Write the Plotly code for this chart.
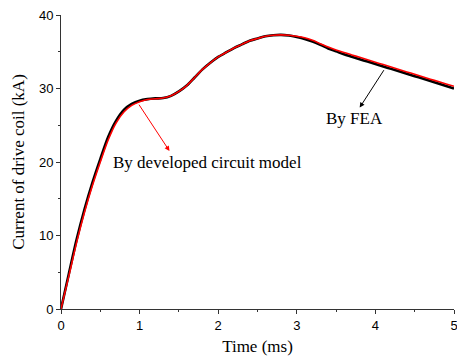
import plotly.graph_objects as go

# Time (ms)
t_ms = [0.0, 0.1, 0.2, 0.3, 0.4, 0.5, 0.6, 0.7, 0.8, 0.9,
        1.0, 1.1, 1.2, 1.3, 1.4, 1.5, 1.6, 1.7, 1.8, 1.9,
        2.0, 2.1, 2.2, 2.3, 2.4, 2.5, 2.6, 2.7, 2.8, 2.9,
        3.0, 3.1, 3.2, 3.3, 3.4, 3.5, 3.6, 3.7, 3.8, 3.9,
        4.0, 4.1, 4.2, 4.3, 4.4, 4.5, 4.6, 4.7, 4.8, 4.9, 5.0]

# Current (kA) by developed circuit model (red)
i_circuit = [0, 4.5, 9.1, 13.2, 16.8, 20.0, 23.0, 25.3, 26.8, 27.7,
             28.2, 28.5, 28.6, 28.7, 29.0, 29.6, 30.4, 31.5, 32.6, 33.5,
             34.3, 34.9, 35.5, 36.0, 36.5, 36.8, 37.1, 37.25, 37.3, 37.25,
             37.1, 36.9, 36.55, 36.1, 35.65, 35.25, 34.9, 34.57, 34.24, 33.91,
             33.58, 33.25, 32.92, 32.59, 32.26, 31.93, 31.6, 31.27, 30.94, 30.62, 30.3]

# Current (kA) by FEA (black)
i_fea = [0, 4.8, 9.5, 13.6, 17.2, 20.4, 23.4, 25.6, 27.1, 27.9,
         28.35, 28.55, 28.65, 28.7, 29.0, 29.6, 30.4, 31.5, 32.6, 33.5,
         34.3, 34.9, 35.5, 36.0, 36.5, 36.8, 37.1, 37.25, 37.3, 37.2,
         37.0, 36.75, 36.4, 35.95, 35.45, 35.05, 34.65, 34.32, 33.99, 33.66,
         33.33, 33.0, 32.67, 32.34, 32.01, 31.68, 31.35, 31.02, 30.69, 30.35, 30.0]

x_ticks = [0, 1, 2, 3, 4, 5]
y_ticks = [0, 10, 20, 30, 40]

serif = "Liberation Serif, Times New Roman, serif"
sans = "Liberation Sans, Arial, sans-serif"

fig = go.Figure()
fig.add_trace(go.Scatter(x=t_ms, y=i_fea, mode="lines",
                         line=dict(color="black", width=2.6, shape="spline", smoothing=0.8),
                         name="By FEA", showlegend=False))
fig.add_trace(go.Scatter(x=t_ms, y=i_circuit, mode="lines",
                         line=dict(color="#ff0000", width=1.6, shape="spline", smoothing=0.8),
                         name="By developed circuit model", showlegend=False))

axis_common = dict(showline=True, linecolor="#333333", linewidth=1, showgrid=False, zeroline=False,
                   ticks="outside", ticklen=4, tickwidth=1, tickcolor="#333333",
                   tickfont=dict(family=sans, size=13, color="black"), mirror=False,
                   automargin=False)

fig.update_xaxes(range=[0, 5], tickvals=x_ticks, ticktext=[str(v) for v in x_ticks],
                 ticklabeloverflow="allow",
                 minor=dict(dtick=0.5, ticks="outside", ticklen=2, tickcolor="#333333"),
                 title=dict(text="Time (ms)", font=dict(family=serif, size=17, color="black"), standoff=8),
                 **axis_common)
fig.update_yaxes(range=[0, 40], tickvals=y_ticks, ticktext=[str(v) for v in y_ticks],
                 minor=dict(dtick=5, ticks="outside", ticklen=2, tickcolor="#333333"),
                 title=dict(text="Current of drive coil (kA)", font=dict(family=serif, size=17, color="black"), standoff=9),
                 **axis_common)

# arrows
fig.add_annotation(x=1.38, y=21.5, ax=0.98, ay=28.0, xref="x", yref="y", axref="x", ayref="y",
                   text="", showarrow=True, arrowhead=2, arrowsize=1, arrowwidth=1, arrowcolor="#ff0000")
fig.add_annotation(x=3.80, y=27.4, ax=4.12, ay=32.7, xref="x", yref="y", axref="x", ayref="y",
                   text="", showarrow=True, arrowhead=2, arrowsize=1, arrowwidth=1, arrowcolor="black")
fig.add_annotation(x=1.86, y=19.9, xref="x", yref="y", text="By developed circuit model", showarrow=False,
                   font=dict(family=serif, size=17, color="black"))
fig.add_annotation(x=3.74, y=25.9, xref="x", yref="y", text="By FEA", showarrow=False,
                   font=dict(family=serif, size=17, color="black"))

fig.update_layout(width=457, height=362, margin=dict(l=61, r=3, t=15, b=53),
                  plot_bgcolor="white", paper_bgcolor="white")

fig.write_html("out.html")
